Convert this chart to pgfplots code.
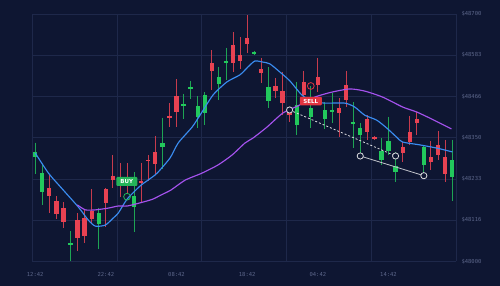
\documentclass[border=0pt]{standalone}
\usepackage{pgfplots}
\pgfplotsset{compat=1.18}
\usepackage{pgfplotstable}
\usepackage{fontspec}
\setmainfont{DejaVu Sans}
\newfontfamily\monofont{DejaVu Sans Mono}
\definecolor{bg}{RGB}{14,22,50}
\definecolor{gridc}{RGB}{30,40,74}
\definecolor{cred}{RGB}{232,66,82}
\definecolor{cgreen}{RGB}{34,200,92}
\definecolor{cblue}{RGB}{58,140,240}
\definecolor{cpurple}{RGB}{165,82,238}
\definecolor{lab}{RGB}{92,102,138}
\definecolor{buyg}{RGB}{36,180,88}
\definecolor{sellr}{RGB}{226,52,64}

\pgfplotstableread{
i o h l c
3 48208 48245 48137 48185
4 48171 48185 48120 48134
5 48151 48168 48095 48112
7 48117 48137 48030 48067
8 48123 48146 48052 48072
9 48143 48205 48109 48120
11 48205 48208 48098 48166
12 48242 48301 48208 48231
13 48236 48279 48182 48216
14 48231 48279 48194 48219
16 48228 48279 48166 48221
17 48287 48301 48228 48283
18 48310 48355 48248 48276
20 48412 48448 48380 48407
21 48468 48516 48380 48423
26 48561 48598 48485 48539
29 48612 48649 48536 48561
30 48584 48635 48544 48567
31 48632 48697 48590 48615
33 48544 48576 48505 48533
35 48496 48519 48462 48482
36 48482 48536 48414 48448
37 48423 48434 48395 48414
39 48508 48539 48462 48471
41 48522 48576 48479 48498
44 48434 48462 48352 48420
45 48499 48539 48437 48457
48 48403 48414 48344 48366
49 48352 48355 48344 48347
53 48324 48338 48281 48307
54 48366 48412 48330 48338
55 48403 48423 48358 48392
57 48296 48341 48259 48281
58 48330 48369 48287 48301
59 48296 48344 48225 48248
}\redc

\pgfplotstableread{
i o h l c
1 48295 48336 48248 48309
2 48197 48276 48160 48250
6 48048 48086 48002 48052
10 48106 48151 48035 48137
15 48154 48253 48083 48185
19 48324 48406 48262 48335
22 48440 48474 48403 48446
23 48489 48511 48460 48494
24 48409 48468 48378 48440
25 48420 48479 48386 48471
27 48502 48550 48457 48522
28 48561 48604 48513 48567
32 48587 48595 48584 48593
34 48454 48550 48434 48494
38 48386 48508 48358 48443
40 48409 48496 48378 48434
42 48403 48451 48375 48429
43 48423 48477 48392 48429
46 48389 48451 48321 48395
47 48358 48392 48307 48378
50 48287 48349 48273 48313
51 48313 48409 48301 48341
52 48253 48310 48225 48270
56 48273 48327 48239 48324
60 48239 48344 48171 48287
}\greenc

\pgfplotsset{candle/.style={only marks, mark=none, mark size=0pt,
  mark options={draw=none, fill=none},
  error bars/.cd, y dir=minus, y explicit, error mark=none}}

\begin{document}
\begin{tikzpicture}
\fill[bg] (0,0) rectangle (500pt,286pt);
\begin{axis}[
  at={(32pt,24.5pt)}, anchor=south west,
  scale only axis, width=424pt, height=247.5pt,
  xmin=0.55, xmax=60.55, ymin=48000, ymax=48700,
  scaled ticks=false,
  axis line style={draw=none},
  major tick length=0pt,
  xtick={0.55,12.55,24.55,36.55,48.55,60.55}, xticklabels={},
  extra x ticks={1,11,21,31,41,51},
  extra x tick labels={12:42,22:42,08:42,18:42,04:42,14:42},
  extra x tick style={grid=none, major tick length=0pt},
  ytick={48000,48116.67,48233.33,48350,48466.67,48583.33,48700},
  yticklabels={\$48000,\$48116,\$48233,\$48350,\$48466,\$48583,\$48700},
  yticklabel pos=right,
  grid=major, major grid style={gridc, line width=0.6pt},
  ticklabel style={font=\monofont\fontsize{5.5}{6}\selectfont, text=lab},
  xticklabel style={yshift=-7pt},
  yticklabel style={xshift=2pt},
  clip=false,
]
% wicks
\addplot[cred!85!bg, candle, error bar style={cred!85!bg, line width=0.9pt}]
  table[x=i, y=h, y error minus expr=\thisrow{h}-\thisrow{l}] {\redc};
\addplot[cgreen!80!bg, candle, error bar style={cgreen!80!bg, line width=0.9pt}]
  table[x=i, y=h, y error minus expr=\thisrow{h}-\thisrow{l}] {\greenc};
% bodies
\addplot[cred, candle, error bar style={cred, line width=4.3pt}]
  table[x=i, y=o, y error minus expr=\thisrow{o}-\thisrow{c}] {\redc};
\addplot[cgreen, candle, error bar style={cgreen, line width=4.3pt}]
  table[x=i, y=c, y error minus expr=\thisrow{c}-\thisrow{o}] {\greenc};
% moving averages
\addplot[cblue, line width=1.15pt, smooth, tension=0.4] coordinates {
(1,48307) (2.88,48250) (4.71,48208) (7.11,48154) (8.52,48117) (9.51,48100)
(10.92,48103) (12.05,48123) (12.76,48137) (14.03,48177) (15.87,48214) (17.1,48232)
(18.26,48250) (20.09,48293) (21.23,48335) (23.2,48380) (24.33,48414) (26.17,48471)
(28.14,48508) (29.98,48528) (31.1,48550) (32.09,48567) (33.22,48564) (34.21,48559)
(35.62,48536) (37.03,48511) (38.73,48471) (40.14,48454) (41.97,48448) (44.8,48448)
(46.21,48437) (47.62,48414) (49.31,48400) (50.72,48378) (52.13,48352) (52.98,48338)
(55.38,48330) (57.78,48321) (60.04,48310)};
\addplot[cpurple, line width=1.15pt, smooth, tension=0.4] coordinates {
(6.97,48160) (8.1,48146) (9.51,48146) (11.35,48151) (12.76,48157) (14.03,48157)
(15.87,48166) (17.6,48176) (18.8,48188) (20.2,48202) (22.21,48230) (24.61,48250)
(26.87,48273) (28.85,48301) (30.68,48335) (31.81,48349) (33.79,48380) (36.05,48420)
(38.17,48440) (40.57,48465) (42.97,48479) (45.51,48488) (47.63,48482) (50.17,48465)
(52.99,48437) (54.97,48423) (56.8,48406) (58.21,48392) (59.91,48375)};
% annotation lines
\addplot[white!85!bg, line width=0.8pt, dash pattern=on 2pt off 2pt] coordinates {(37,48428.5) (52,48298.4)};
\addplot[white!75!bg, line width=0.8pt] coordinates {(47,48298.4) (56,48242.7)};
\addplot[only marks, mark=*, mark size=3.1pt, mark options={fill=bg, draw=white!85!bg, line width=0.8pt}]
  coordinates {(37,48428.5) (52,48298.4) (47,48298.4) (56,48242.7)};
\addplot[only marks, mark=o, mark size=3.4pt, mark options={draw=sellr, line width=0.8pt}]
  coordinates {(40,48496.4)};
\addplot[only marks, mark=o, mark size=3.4pt, mark options={draw=buyg, line width=0.8pt}]
  coordinates {(14,48183.3)};
\node[fill=buyg, rounded corners=1pt, text=white, inner sep=0pt, minimum width=21pt, minimum height=9pt,
  font=\bfseries\fontsize{5.5}{5.5}\selectfont] at (axis cs:13.96,48226.3) {BUY};
\node[fill=sellr, rounded corners=1pt, text=white, inner sep=0pt, minimum width=22pt, minimum height=8.5pt,
  font=\bfseries\fontsize{5.5}{5.5}\selectfont] at (axis cs:40,48453.9) {SELL};
\end{axis}
\pgfresetboundingbox
\path[use as bounding box] (0,0) rectangle (500pt,286pt);
\end{tikzpicture}
\end{document}
